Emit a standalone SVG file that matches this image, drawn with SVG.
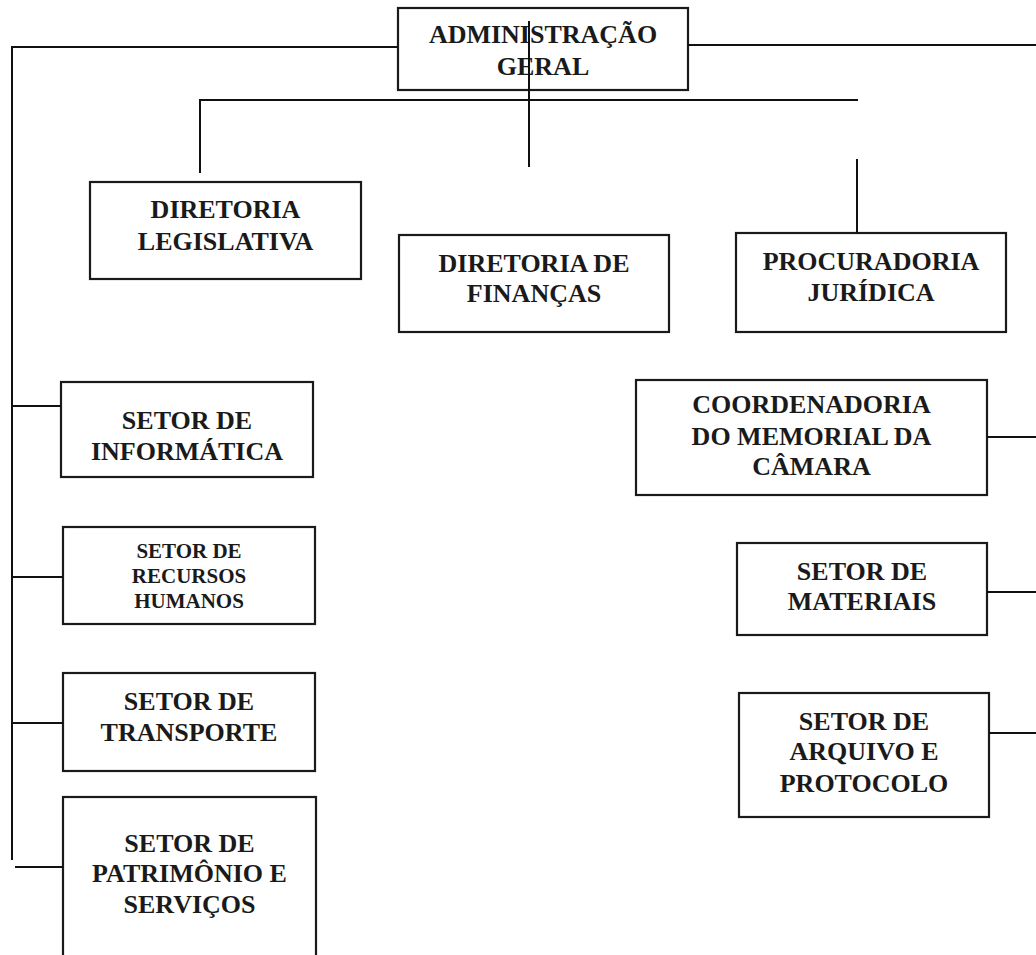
<svg xmlns="http://www.w3.org/2000/svg" width="1036" height="955" viewBox="0 0 1036 955">
<style>
.box{fill:#fff;stroke:#1a1a1a;stroke-width:2.2}
.ln{stroke:#111;stroke-width:2;fill:none}
.t{font-family:"Liberation Serif","Times New Roman",serif;font-weight:bold;font-size:26px;fill:#1a1a1a;text-anchor:middle}
.s{font-size:21px}
</style>
<rect width="1036" height="955" fill="#fff"/>
<g id="n-admin"><rect class="box" x="398" y="8" width="290" height="82"/><text class="t" x="543" y="43">ADMINISTRAÇÃO</text><text class="t" x="543" y="75">GERAL</text></g>
<g id="n-leg"><rect class="box" x="90" y="182" width="271" height="97"/><text class="t" x="225.5" y="218">DIRETORIA</text><text class="t" x="225.5" y="250">LEGISLATIVA</text></g>
<g id="n-fin"><rect class="box" x="399" y="235" width="270" height="97"/><text class="t" x="534" y="272">DIRETORIA DE</text><text class="t" x="534" y="302">FINANÇAS</text></g>
<g id="n-proc"><rect class="box" x="736" y="233" width="270" height="99"/><text class="t" x="871" y="270">PROCURADORIA</text><text class="t" x="871" y="301">JURÍDICA</text></g>
<g id="n-coord"><rect class="box" x="636" y="380" width="351" height="115"/><text class="t" x="811.5" y="413">COORDENADORIA</text><text class="t" x="811.5" y="445">DO MEMORIAL DA</text><text class="t" x="811.5" y="475">CÂMARA</text></g>
<g id="n-info"><rect class="box" x="61" y="382" width="252" height="95"/><text class="t" x="187" y="429">SETOR DE</text><text class="t" x="187" y="460">INFORMÁTICA</text></g>
<g id="n-rh"><rect class="box" x="63" y="527" width="252" height="97"/><text class="t s" x="189" y="558">SETOR DE</text><text class="t s" x="189" y="583">RECURSOS</text><text class="t s" x="189" y="608">HUMANOS</text></g>
<g id="n-mat"><rect class="box" x="737" y="543" width="250" height="92"/><text class="t" x="862" y="580">SETOR DE</text><text class="t" x="862" y="610">MATERIAIS</text></g>
<g id="n-transp"><rect class="box" x="63" y="673" width="252" height="98"/><text class="t" x="189" y="710">SETOR DE</text><text class="t" x="189" y="741">TRANSPORTE</text></g>
<g id="n-arq"><rect class="box" x="739" y="693" width="250" height="124"/><text class="t" x="864" y="730">SETOR DE</text><text class="t" x="864" y="760">ARQUIVO E</text><text class="t" x="864" y="792">PROTOCOLO</text></g>
<g id="n-patr"><rect class="box" x="63" y="797" width="253" height="170"/><text class="t" x="189.5" y="852">SETOR DE</text><text class="t" x="189.5" y="882">PATRIMÔNIO E</text><text class="t" x="189.5" y="913">SERVIÇOS</text></g>
<g id="connectors">
<path class="ln" d="M398 47 H12 V860"/>
<path class="ln" d="M688 45 H1036"/>
<path class="ln" d="M529 21 V167"/>
<path class="ln" d="M200 173 V100 H858"/>
<path class="ln" d="M857 159 V233"/>
<path class="ln" d="M13 406 H61"/>
<path class="ln" d="M13 577 H63"/>
<path class="ln" d="M13 723 H63"/>
<path class="ln" d="M15 867 H63"/>
<path class="ln" d="M987 437 H1036"/>
<path class="ln" d="M987 592 H1036"/>
<path class="ln" d="M989 733 H1036"/>
</g>
</svg>
